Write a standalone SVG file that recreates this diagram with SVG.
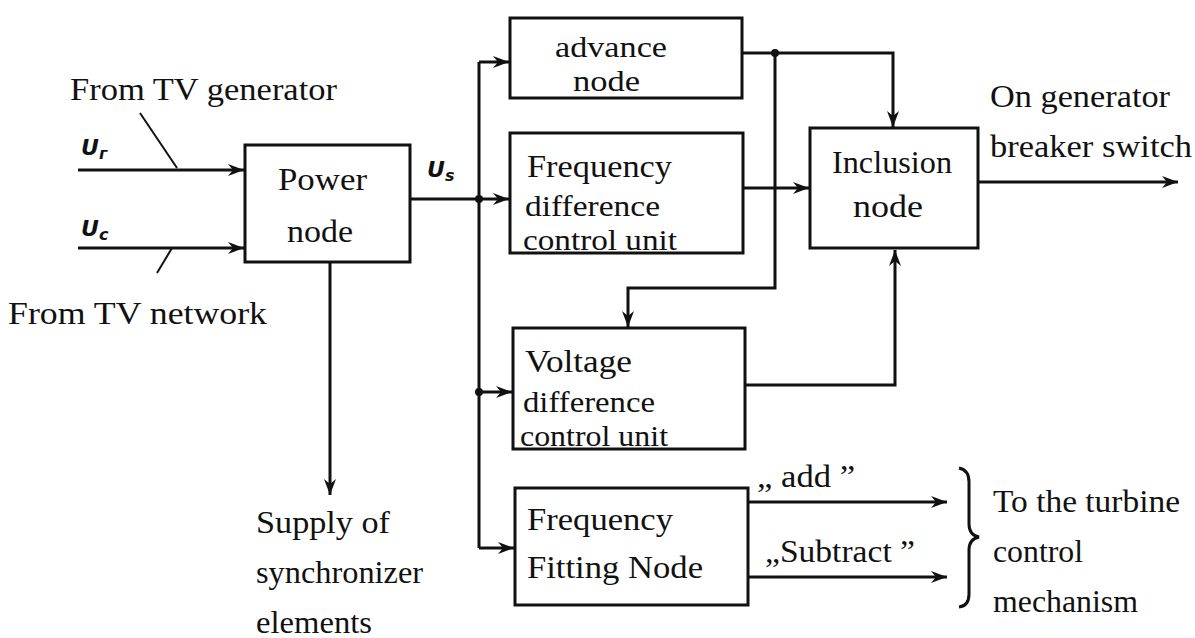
<svg xmlns="http://www.w3.org/2000/svg" width="1195" height="638" viewBox="0 0 1195 638">
<defs>
<style>
.box{fill:#fff;stroke:#111;stroke-width:3}
.ln{fill:none;stroke:#111;stroke-width:3}
.thin{fill:none;stroke:#111;stroke-width:2}
.t{font-family:"Liberation Serif","Times New Roman",Times,serif;font-size:32px;fill:#111}
.s{font-size:29px}
.u{font-family:"DejaVu Sans","Liberation Sans",sans-serif;font-size:22px;font-style:italic;font-weight:bold;fill:#111}
.us{font-size:16px}
</style>
<marker id="ar" viewBox="-16 -7 17 14" refX="0" refY="0" markerWidth="17" markerHeight="14" markerUnits="userSpaceOnUse" orient="auto">
<path d="M0,0 L-16,-6 L-11,0 L-16,6 Z" fill="#111"/>
</marker>
</defs>
<rect width="1195" height="638" fill="#fff"/>

<g id="connectors">
<line class="ln" x1="78" y1="170" x2="244" y2="170" marker-end="url(#ar)"/>
<line class="ln" x1="78" y1="248" x2="244" y2="248" marker-end="url(#ar)"/>
<line class="thin" x1="140" y1="113" x2="177" y2="168"/>
<line class="thin" x1="157" y1="273" x2="172" y2="248"/>
<polyline class="ln" points="410,199 509,199" marker-end="url(#ar)"/>
<line class="ln" x1="479" y1="62" x2="479" y2="548"/>
<polyline class="ln" points="479,62 509,62" marker-end="url(#ar)"/>
<polyline class="ln" points="479,392 512,392" marker-end="url(#ar)"/>
<polyline class="ln" points="479,548 514,548" marker-end="url(#ar)"/>
<polyline class="ln" points="742,53 893,53 893,127" marker-end="url(#ar)"/>
<polyline class="ln" points="775,53 775,288 628,288 628,327" marker-end="url(#ar)"/>
<polyline class="ln" points="743,188 809,188" marker-end="url(#ar)"/>
<polyline class="ln" points="745,385 895,385 895,250" marker-end="url(#ar)"/>
<polyline class="ln" points="978,182 1178,182" marker-end="url(#ar)"/>
<polyline class="ln" points="330,262 330,495" marker-end="url(#ar)"/>
<polyline class="ln" points="748,502 947,502" marker-end="url(#ar)"/>
<polyline class="ln" points="748,577 947,577" marker-end="url(#ar)"/>
<circle cx="479" cy="199" r="4" fill="#111"/>
<circle cx="479" cy="392" r="4" fill="#111"/>
<circle cx="775" cy="53" r="4" fill="#111"/>
<path class="ln" stroke-width="2.5" d="M959,468 Q969,470 969,482 L969,524 Q969,535 979,537 Q969,539 969,550 L969,594 Q969,606 959,607"/>
</g>

<g id="labels">
<text class="t" x="70" y="100" textLength="267" lengthAdjust="spacingAndGlyphs">From TV generator</text>
<text class="t" x="8" y="324" textLength="259" lengthAdjust="spacingAndGlyphs">From TV network</text>
<text class="u" x="81" y="155">U<tspan class="us" dy="4">г</tspan></text>
<text class="u" x="81" y="236">U<tspan class="us" dy="4">c</tspan></text>
<text class="u" x="427" y="177">U<tspan class="us" dy="4">s</tspan></text>
<text class="t" x="990" y="107" textLength="180" lengthAdjust="spacingAndGlyphs">On generator</text>
<text class="t" x="990" y="157" textLength="202" lengthAdjust="spacingAndGlyphs">breaker switch</text>
<text class="t" x="256" y="533" textLength="134" lengthAdjust="spacingAndGlyphs">Supply of</text>
<text class="t" x="256" y="583" textLength="167" lengthAdjust="spacingAndGlyphs">synchronizer</text>
<text class="t" x="256" y="633" textLength="116" lengthAdjust="spacingAndGlyphs">elements</text>
<text class="t" x="757" y="487" textLength="98" lengthAdjust="spacingAndGlyphs">„ add ”</text>
<text class="t" x="765" y="562" textLength="150" lengthAdjust="spacingAndGlyphs">„Subtract ”</text>
<text class="t" x="993" y="512" textLength="187" lengthAdjust="spacingAndGlyphs">To the turbine</text>
<text class="t" x="993" y="562" textLength="90" lengthAdjust="spacingAndGlyphs">control</text>
<text class="t" x="993" y="612" textLength="145" lengthAdjust="spacingAndGlyphs">mechanism</text>
</g>

<g id="power-node">
<rect class="box" x="245" y="145" width="165" height="117"/>
<text class="t" x="278" y="190" textLength="89" lengthAdjust="spacingAndGlyphs">Power</text>
<text class="t" x="287" y="242" textLength="66" lengthAdjust="spacingAndGlyphs">node</text>
</g>

<g id="advance-node">
<rect class="box" x="510" y="18" width="232" height="80"/>
<text class="t s" x="555" y="57" textLength="112" lengthAdjust="spacingAndGlyphs">advance</text>
<text class="t s" x="573" y="91" textLength="67" lengthAdjust="spacingAndGlyphs">node</text>
</g>

<g id="frequency-difference-unit">
<rect class="box" x="510" y="133" width="233" height="120"/>
<text class="t" x="527" y="177" textLength="145" lengthAdjust="spacingAndGlyphs">Frequency</text>
<text class="t s" x="525" y="216" textLength="135" lengthAdjust="spacingAndGlyphs">difference</text>
<text class="t s" x="523" y="250" textLength="154" lengthAdjust="spacingAndGlyphs">control unit</text>
</g>

<g id="inclusion-node">
<rect class="box" x="810" y="128" width="168" height="120"/>
<text class="t" x="832" y="173" textLength="120" lengthAdjust="spacingAndGlyphs">Inclusion</text>
<text class="t" x="853" y="217" textLength="70" lengthAdjust="spacingAndGlyphs">node</text>
</g>

<g id="voltage-difference-unit">
<rect class="box" x="513" y="328" width="232" height="121"/>
<text class="t" x="525" y="372" textLength="107" lengthAdjust="spacingAndGlyphs">Voltage</text>
<text class="t s" x="523" y="412" textLength="132" lengthAdjust="spacingAndGlyphs">difference</text>
<text class="t s" x="520" y="446" textLength="148" lengthAdjust="spacingAndGlyphs">control unit</text>
</g>

<g id="frequency-fitting-node">
<rect class="box" x="515" y="488" width="233" height="117"/>
<text class="t" x="527" y="530" textLength="146" lengthAdjust="spacingAndGlyphs">Frequency</text>
<text class="t" x="527" y="578" textLength="176" lengthAdjust="spacingAndGlyphs">Fitting Node</text>
</g>
</svg>
